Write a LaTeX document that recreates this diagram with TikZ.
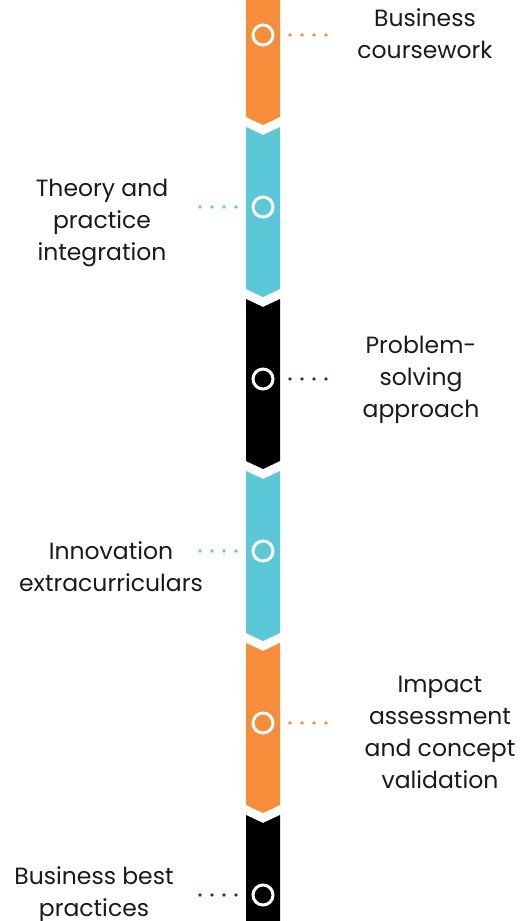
\documentclass[tikz,border=0pt]{standalone}
\usepackage{fontspec}
\setmainfont{Poppins}
\usetikzlibrary{positioning, calc}

\definecolor{segorange}{HTML}{F58D3A}
\definecolor{segteal}{HTML}{5BC8D8}
\definecolor{segnavy}{HTML}{1F3864}
\definecolor{notegray}{HTML}{1A1A1A}

\begin{document}
\begin{tikzpicture}[x=1pt, y=-1pt,
    ring/.style={circle, draw=white, line width=3pt, minimum size=20pt, inner sep=0pt},
    leader/.style={draw=#1, line width=3.8pt, line cap=round, dash pattern=on 0pt off 12pt},
    note/.style={align=center, text=notegray, font=\fontsize{23.5}{32}\selectfont}]
    \useasboundingbox (0,0) rectangle (532,921);
    \clip (0,0) rectangle (532,921);

    % Segments
    \foreach \c [count=\i from 0] in {segorange, segteal, black, segteal, segorange, black} {
        \pgfmathsetmacro\top{-45+172*\i}
        \fill[\c] (246,\top) -- (263,{\top+8}) -- (280,\top) -- (280,{\top+162})
            -- (263,{\top+170}) -- (246,{\top+162}) -- cycle;
    }

    % Nodes
    \node[ring] (c1) at (263,35) {};
    \node[ring] (c2) at (263,207) {};
    \node[ring] (c3) at (263,379) {};
    \node[ring] (c4) at (263,551) {};
    \node[ring] (c5) at (263,723) {};
    \node[ring] (c6) at (263,895) {};

    \node[note] (t1) at (425,34) {Business\\coursework};
    \node[note] (t2) at (102,223) {Theory and\\practice\\integration};
    \node[note] (t3) at (421,380) {Problem-\\solving\\approach};
    \node[note] (t4) at (111,567) {Innovation\\extracurriculars};
    \node[note] (t5) at (440,732) {Impact\\assessment\\and concept\\validation};
    \node[note] (t6) at (94,895) {Business best\\practices};

    % Leaders
    \draw[leader=segorange] ([xshift=27pt]c1.center) -- ([xshift=64pt]c1.center);
    \draw[leader=segteal] ([xshift=-27pt]c2.center) -- ([xshift=-64pt]c2.center);
    \draw[leader=segnavy] ([xshift=27pt]c3.center) -- ([xshift=64pt]c3.center);
    \draw[leader=segteal] ([xshift=-27pt]c4.center) -- ([xshift=-64pt]c4.center);
    \draw[leader=segorange] ([xshift=27pt]c5.center) -- ([xshift=64pt]c5.center);
    \draw[leader=segnavy] ([xshift=-27pt]c6.center) -- ([xshift=-64pt]c6.center);
\end{tikzpicture}
\end{document}
